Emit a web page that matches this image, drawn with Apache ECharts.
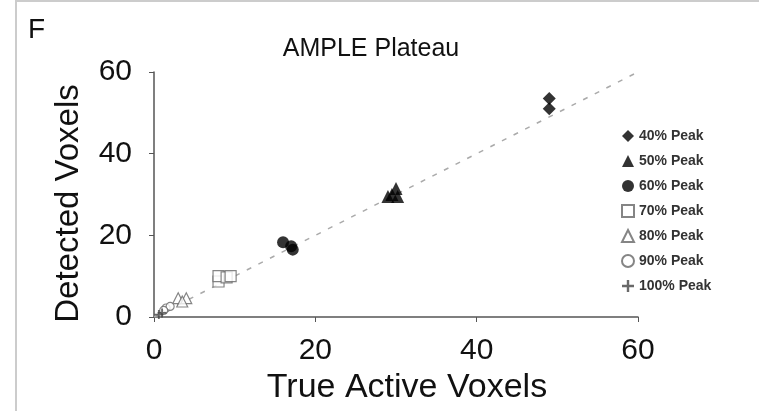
<!DOCTYPE html>
<html>
<head>
<meta charset="utf-8">
<script src="https://cdn.jsdelivr.net/npm/echarts@6/dist/echarts.min.js"></script>
<style>
  html, body { margin: 0; padding: 0; background: #fff; }
  #chart { width: 759px; height: 411px; }
</style>
</head>
<body>
<div id="chart"></div>
<script>
// values (true active voxels, detected voxels)
const peak40 = [[49, 53.5], [49, 51]];
const peak50 = [[29.5, 30], [30, 31.5], [30.2, 29.5], [29, 29.5]];
const peak60 = [[16, 18.3], [17.2, 16.5], [17, 17.3]];
const peak70 = [[8, 8.7], [8, 10], [9, 9.7], [9.5, 10]];
const peak80 = [[3, 4.6], [4, 4.6], [3.5, 3.8]];
const peak90 = [[1.5, 2.2], [2, 2.6], [1.2, 1.6]];
const peak100 = [[0.6, 0.6], [1, 1]];
const identityLine = [[0, 0], [60, 60]];
const xTicks = [0, 20, 40, 60];
const yTicks = [0, 20, 40, 60];

const plusPath = 'path://M4,0 L6,0 L6,4 L10,4 L10,6 L6,6 L6,10 L4,10 L4,6 L0,6 L0,4 L4,4 Z';

const chart = echarts.init(document.getElementById('chart'));

function scatter(name, data, symbol, size, style) {
  return {
    name: name,
    type: 'scatter',
    data: data,
    symbol: symbol,
    symbolSize: size,
    itemStyle: style,
    z: 3
  };
}

const filled = { color: '#000' };
const hollow = { color: '#fff', borderColor: '#666', borderWidth: 1.2 };

const option = {
  backgroundColor: '#fff',
  animation: false,
  textStyle: { fontFamily: 'Liberation Sans, Arial, sans-serif' },
  title: [
    {
      text: 'AMPLE Plateau',
      left: 366, top: 32, textAlign: 'center',
      textStyle: { fontSize: 25, fontWeight: 'normal', color: '#111' }
    },
    {
      text: 'F',
      left: 23, top: 11,
      textStyle: { fontSize: 28, fontWeight: 'normal', color: '#111' }
    }
  ],
  graphic: [
    { type: 'line', shape: { x1: 16, y1: 0, x2: 16, y2: 411 }, style: { stroke: '#ccc', lineWidth: 2 } },
    { type: 'line', shape: { x1: 16, y1: 1, x2: 759, y2: 1 }, style: { stroke: '#ccc', lineWidth: 2 } }
  ],
  legend: {
    orient: 'vertical',
    left: 616, top: 124,
    itemGap: 11,
    itemWidth: 12, itemHeight: 12,
    textStyle: { fontSize: 14, fontWeight: 'bold', color: '#333' },
    data: ['40% Peak', '50% Peak', '60% Peak', '70% Peak', '80% Peak', '90% Peak', '100% Peak']
  },
  grid: { left: 154, right: 121, top: 72, bottom: 94 },
  xAxis: {
    type: 'value', min: 0, max: 60, interval: 20,
    name: 'True Active Voxels', nameLocation: 'middle', nameGap: 52,
    nameTextStyle: { fontSize: 34, color: '#111', padding: [0, 0, 0, 22] },
    axisLine: { show: true, lineStyle: { color: '#555', width: 1.5 } },
    axisTick: { show: true, inside: false, length: 5, lineStyle: { color: '#555' } },
    axisLabel: { fontSize: 30, color: '#111', margin: 19, formatter: v => xTicks.includes(v) ? v : '' },
    splitLine: { show: false }
  },
  yAxis: {
    type: 'value', min: 0, max: 60, interval: 20,
    name: 'Detected Voxels', nameLocation: 'middle', nameGap: 69,
    nameTextStyle: { fontSize: 33, color: '#111', padding: [0, 18, 0, 0] },
    axisLine: { show: true, lineStyle: { color: '#555', width: 1.5 } },
    axisTick: { show: true, inside: false, length: 5, lineStyle: { color: '#555' } },
    axisLabel: { fontSize: 30, color: '#111', margin: 22, formatter: v => yTicks.includes(v) ? v : '' },
    splitLine: { show: false }
  },
  series: [
    {
      name: 'identity',
      type: 'line',
      data: identityLine,
      symbol: 'none',
      lineStyle: { color: '#aaa', width: 1.5, type: [5, 8] },
      z: 1,
      silent: true
    },
    scatter('40% Peak', peak40, 'diamond', 13, filled),
    scatter('50% Peak', peak50, 'triangle', 13, filled),
    scatter('60% Peak', peak60, 'circle', 12, filled),
    scatter('70% Peak', peak70, 'rect', 11, hollow),
    scatter('80% Peak', peak80, 'triangle', 11, hollow),
    scatter('90% Peak', peak90, 'circle', 8, hollow),
    scatter('100% Peak', peak100, plusPath, 9, { color: '#444' })
  ]
};

chart.setOption(option);
window.addEventListener('resize', () => {
  chart.resize();
});
</script>
</body>
</html>
